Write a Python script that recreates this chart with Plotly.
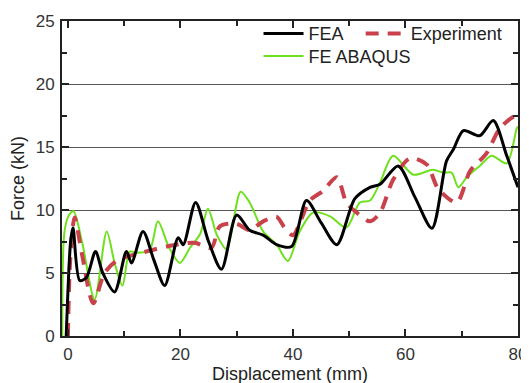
import plotly.graph_objects as go

# FEA (black)
fea_x = [-0.3, 0.5, 0.9, 2.1, 3.3, 4.9, 6.2, 8.3, 10.4, 11.3, 13.35, 15.3, 17.2, 19.6, 20.5, 22.7, 25.0, 27.3,
         30.0, 32.3, 34.7, 37.1, 39.75, 42.4, 45.0, 47.8, 51.0, 53.7, 55.5, 58.7, 61.7, 64.7, 67.3, 68.5,
         70.3, 73.2, 75.6, 78.0, 80.0]
fea_y = [0, 7.6, 8.6, 4.4, 4.65, 6.7, 5.0, 3.5, 6.7, 5.8, 8.3, 6.0, 4.0, 7.8, 7.25, 10.6, 7.5, 5.3,
         9.6, 8.4, 8.0, 7.25, 7.1, 10.75, 9.0, 7.25, 10.9, 11.8, 12.05, 13.5, 11.0, 8.55, 13.9, 14.8,
         16.3, 15.9, 17.1, 14.3, 11.8]

# Experiment (red dashed)
exp_x = [0.0, 0.4, 1.2, 2.5, 4.5, 6.5, 8.6, 10.5, 12.2, 15.7, 18.7, 22.5, 25.5, 27.0, 30.0, 32.3, 34.7,
         37.1, 38.5, 40.0, 43.0, 45.3, 47.8, 49.5, 51.3, 53.7, 55.5, 57.8, 60.8, 63.8, 65.8, 69.1, 71.5,
         74.4, 76.8, 79.2, 80.0]
exp_y = [0, 6.0, 9.4, 6.5, 2.6, 5.0, 5.95, 6.3, 6.5, 6.9, 7.2, 7.4, 7.0, 8.7, 8.9, 8.4, 9.1,
         9.45, 8.6, 8.0, 10.75, 11.5, 12.6, 10.6, 9.8, 9.1, 9.8, 12.4, 14.1, 13.6, 11.7, 10.6, 13.1,
         14.5, 16.5, 17.4, 17.5]

# FE ABAQUS (green)
aba_x = [-1.0, -0.6, 0.2, 1.0, 2.5, 4.75, 6.9, 8.3, 9.7, 11.0, 12.2, 14.5, 16.0, 18.0, 19.9, 21.7, 23.5,
         24.9, 26.5, 28.2, 30.7, 32.3, 34.7, 37.1, 39.1, 41.2, 43.6, 46.6, 49.5, 51.9, 53.7, 55.5, 57.8,
         61.4, 64.9, 66.7, 68.2, 69.4, 70.9, 73.2, 75.3, 78.0, 79.8, 80.0]
aba_y = [0, 8.3, 9.6, 9.9, 7.5, 2.9, 8.3, 5.8, 4.0, 6.7, 6.6, 6.8, 9.1, 7.0, 5.8, 7.0, 8.1,
         10.1, 8.0, 6.9, 11.45, 10.6, 8.3, 7.25, 5.95, 8.3, 9.8, 9.5, 8.6, 10.6, 10.75, 12.2, 14.3,
         12.8, 13.2, 12.96, 12.96, 11.8, 12.6, 13.5, 14.3, 13.7, 16.5, 16.6]

FONT = "Liberation Sans, Arial, sans-serif"

fig = go.Figure()
fig.add_trace(go.Scatter(x=aba_x, y=aba_y, mode="lines", name="FE ABAQUS",
                         line=dict(color="#6fe01e", width=2, shape="spline", smoothing=0.8),
                         legend="legend2", showlegend=True))
fig.add_trace(go.Scatter(x=exp_x, y=exp_y, mode="lines", name="Experiment",
                         line=dict(color="#c9414a", width=4, dash="13px,9px", shape="spline", smoothing=0.8),
                         legend="legend3", showlegend=True))
fig.add_trace(go.Scatter(x=fea_x, y=fea_y, mode="lines", name="FEA",
                         line=dict(color="#000000", width=3, shape="spline", smoothing=0.8),
                         legend="legend", showlegend=True))

axis_common = dict(showline=True, linecolor="#222", linewidth=2, mirror="ticks",
                   ticks="inside", tickcolor="#222", tickwidth=1.5, ticklen=7, automargin=False,
                   ticklabelstandoff=2,
                   tickfont=dict(family=FONT, size=17, color="#333"), zeroline=False)

fig.update_xaxes(range=[-1.05, 80], tickvals=[0, 20, 40, 60, 80], showgrid=False,
                 minor=dict(ticks="inside", tickvals=[10, 30, 50, 70], ticklen=5, tickcolor="#222"),
                 title=dict(text="Displacement (mm)", font=dict(family=FONT, size=18, color="#222"), standoff=1),
                 **axis_common)
fig.update_yaxes(range=[0, 25], tickvals=[0, 5, 10, 15, 20, 25], showgrid=True, gridcolor="#555", gridwidth=1,
                 minor=dict(ticks="inside", tickvals=[2.5, 7.5, 12.5, 17.5, 22.5], ticklen=5, tickcolor="#222",
                            showgrid=False),
                 title=dict(text="Force (kN)", font=dict(family=FONT, size=18, color="#222"), standoff=13),
                 **axis_common)

leg_font = dict(family=FONT, size=18, color="#222")
fig.update_layout(
    width=529, height=383,
    showlegend=True,
    margin=dict(l=54, r=19, t=7, b=55),
    paper_bgcolor="white", plot_bgcolor="white",
    legend=dict(orientation="h", x=0.431, y=0.9595, xanchor="left", yanchor="middle",
                bgcolor="rgba(0,0,0,0)", font=leg_font, itemwidth=40, visible=True),
    legend3=dict(orientation="h", x=0.655, y=0.9595, xanchor="left", yanchor="middle",
                 bgcolor="rgba(0,0,0,0)", font=leg_font, itemwidth=40, visible=True),
    legend2=dict(orientation="h", x=0.431, y=0.888, xanchor="left", yanchor="middle",
                 bgcolor="rgba(0,0,0,0)", font=leg_font, itemwidth=40, visible=True),
)

fig.write_html("out.html")
